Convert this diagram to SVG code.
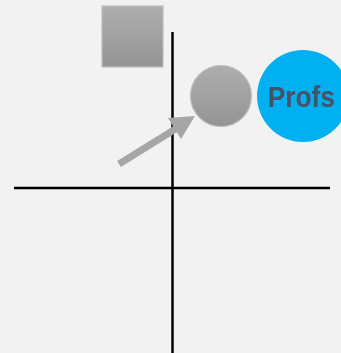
<svg xmlns="http://www.w3.org/2000/svg" width="341" height="353" viewBox="0 0 341 353">
<defs>
<linearGradient id="g" x1="0" y1="0" x2="0" y2="1">
<stop offset="0" stop-color="#AEAEAE"/>
<stop offset="1" stop-color="#949494"/>
</linearGradient>
<style>
.shape{fill:url(#g);stroke:#BDBDBD;stroke-width:1.2}
.axis{stroke:#000;stroke-width:2.5}
</style>
</defs>
<rect width="341" height="353" fill="#F2F2F2"/>
<g id="connectors">
<line class="axis" x1="14" y1="188" x2="330" y2="188"/>
<line class="axis" x1="172.5" y1="32" x2="172.5" y2="353"/>
<line x1="119" y1="164" x2="177" y2="128" stroke="#A6A6A6" stroke-width="7"/>
<polygon points="195,116 168,118 181,139" fill="#A6A6A6"/>
</g>
<g id="square"><rect class="shape" x="102" y="6" width="61" height="61"/></g>
<g id="circle"><circle class="shape" cx="221" cy="96" r="30.5"/></g>
<g id="profs">
<circle cx="303" cy="96" r="46" fill="#00B0F0"/>
<text x="301.5" y="107" font-family="Liberation Sans, sans-serif" font-weight="bold" font-size="29" fill="#44546A" text-anchor="middle" textLength="67" lengthAdjust="spacingAndGlyphs">Profs</text>
</g>
</svg>
